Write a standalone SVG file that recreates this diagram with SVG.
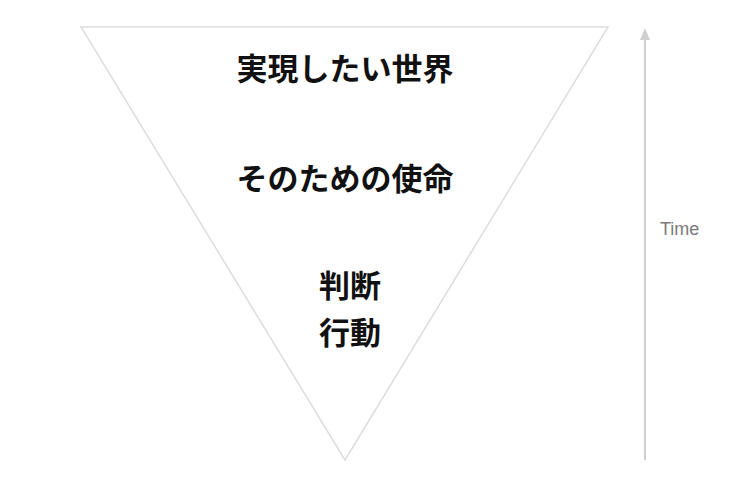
<svg xmlns="http://www.w3.org/2000/svg" width="740" height="496" viewBox="0 0 740 496">
  <style>
    .label { font-family: "Noto Sans CJK JP", "Liberation Sans", sans-serif; font-weight: bold; font-size: 31px; fill: #111; text-anchor: middle; }
    .time { font-family: "Liberation Sans", "Noto Sans", sans-serif; font-size: 18px; fill: #7a7a7a; }
  </style>
  <rect width="740" height="496" fill="#ffffff"/>
  <g id="triangle">
    <polygon points="81,27 608,27 345,460" fill="none" stroke="#dddddd" stroke-width="1.5"/>
  </g>
  <g id="connectors">
    <line x1="645" y1="460" x2="645" y2="40" stroke="#cfcfcf" stroke-width="2"/>
    <path d="M640,40 L645,28 L650,40 Z" fill="#cfcfcf"/>
  </g>
  <g id="node-world">
    <text class="label" x="345" y="80">実現したい世界</text>
  </g>
  <g id="node-mission">
    <text class="label" x="345" y="190">そのための使命</text>
  </g>
  <g id="node-action">
    <text class="label" x="350" y="297">判断</text>
    <text class="label" x="350" y="344">行動</text>
  </g>
  <g id="time-label">
    <text class="time" x="660" y="235">Time</text>
  </g>
</svg>
